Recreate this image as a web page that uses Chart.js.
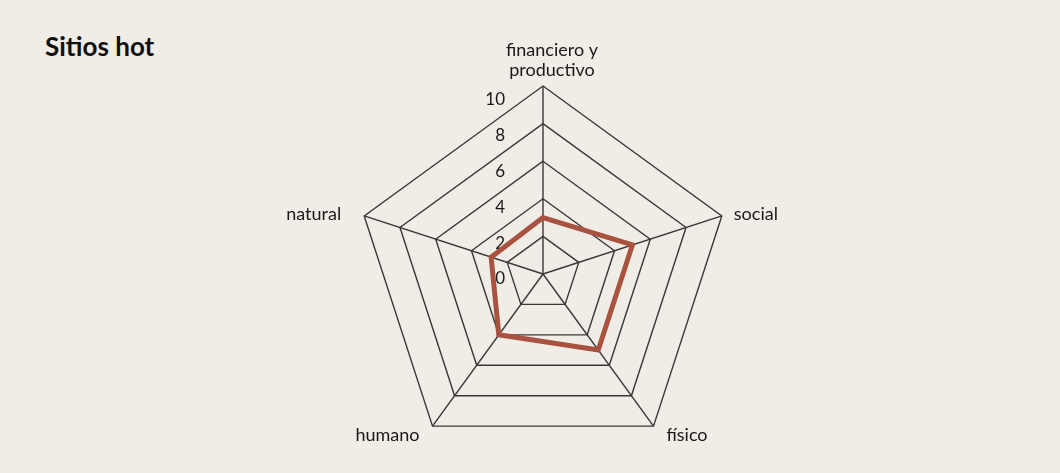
<!DOCTYPE html>
<html lang="es">
<head>
<meta charset="utf-8">
<title>Sitios hot</title>
<script src="https://cdn.jsdelivr.net/npm/chart.js@4.4.1/dist/chart.umd.min.js"></script>
<style>
  html, body { margin: 0; padding: 0; background: #f0ece6; }
  body { width: 1060px; height: 473px; position: relative; overflow: hidden; font-family: Lato, sans-serif; }
  #title { position: absolute; left: 45px; top: 33px; font-size: 26px; line-height: 26px; font-weight: 700; color: #111; }
  #wrap { position: absolute; left: 0; top: 0; width: 1060px; height: 473px; }
</style>
</head>
<body>
<div id="title">Sitios hot</div>
<div id="wrap"><canvas id="radarChart"></canvas></div>
<script>
// capitales: orden horario desde arriba
const axisLabels = [["financiero y", "productivo"], "social", "físico", "humano", "natural"];
const hotValues = [3, 5, 5, 4, 2.9];
const tickValues = [0, 2, 4, 6, 8, 10];

const textColor = "#1a1a1a";
const gridColor = "#383838";

// tick labels sit left of the top spoke, axis labels hand-placed around the vertices
const radarText = {
  id: "radarText",
  beforeDatasetsDraw(chart) {
    const r = chart.scales.r;
    const ctx = chart.ctx;
    ctx.save();
    ctx.fillStyle = textColor;
    ctx.font = "17px Lato";
    ctx.textAlign = "right";
    ctx.textBaseline = "middle";
    tickValues.forEach((v) => {
      const d = r.getDistanceFromCenterForValue(v);
      ctx.fillText(String(v), r.xCenter - 38, r.yCenter + 5 - d * 0.955);
    });

    const place = [
      { align: "center", dx: 9, dy: -16 },
      { align: "left", dx: 12, dy: -2 },
      { align: "left", dx: 13, dy: 9 },
      { align: "right", dx: -13, dy: 9 },
      { align: "right", dx: -23, dy: -2 }
    ];
    ctx.font = "18px Lato";
    chart.data.labels.forEach((label, i) => {
      const p = r.getPointPosition(i, r.drawingArea);
      const lines = [].concat(label);
      ctx.textAlign = place[i].align;
      lines.forEach((line, k) => {
        const y = p.y + place[i].dy - (lines.length - 1 - k) * 20;
        ctx.fillText(line, p.x + place[i].dx, y);
      });
    });
    ctx.restore();
  }
};

new Chart(document.getElementById("radarChart"), {
  type: "radar",
  data: {
    labels: axisLabels,
    datasets: [
      {
        label: "Sitios hot",
        data: hotValues,
        borderColor: "#a9523f",
        backgroundColor: "rgba(0,0,0,0)",
        borderWidth: 5,
        borderJoinStyle: "miter",
        fill: false,
        tension: 0,
        pointRadius: 0,
        pointHoverRadius: 0
      }
    ]
  },
  options: {
    responsive: true,
    maintainAspectRatio: false,
    animation: false,
    layout: { padding: { left: 300, right: 274, top: 86, bottom: 11 } },
    plugins: {
      legend: { display: false },
      tooltip: { enabled: false }
    },
    scales: {
      r: {
        min: tickValues[0],
        max: tickValues[tickValues.length - 1],
        ticks: { stepSize: 2, display: false },
        pointLabels: { display: false },
        grid: { color: gridColor, lineWidth: 1.4 },
        angleLines: { color: gridColor, lineWidth: 1.4 }
      }
    }
  },
  plugins: [radarText]
});
</script>
</body>
</html>
